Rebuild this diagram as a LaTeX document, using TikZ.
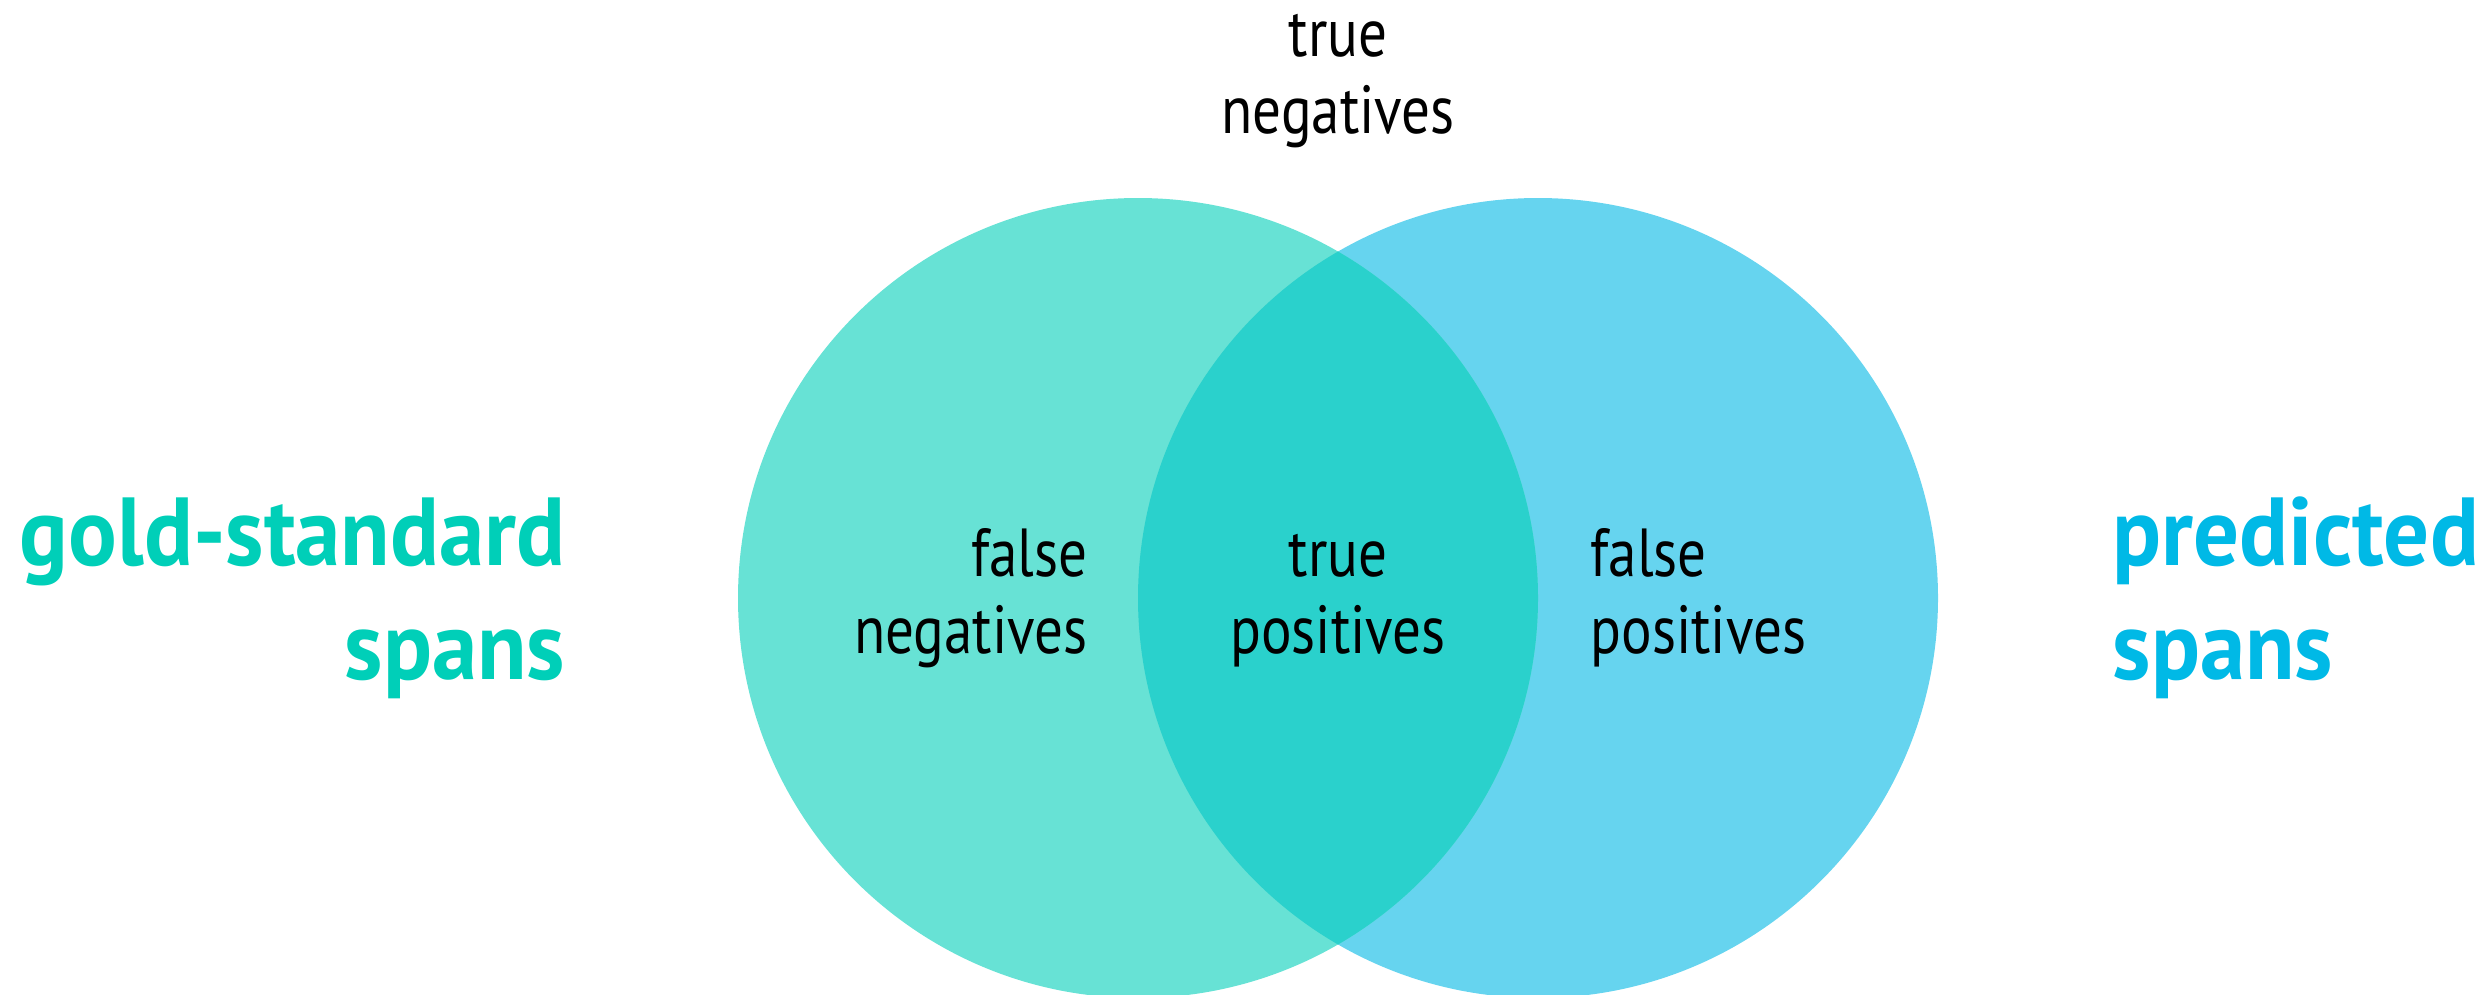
\documentclass[tikz,border=0pt]{standalone}
\usepackage{fontspec}
\setmainfont{PT Sans}
\newfontfamily\lblfont[FakeStretch=0.84]{PT Sans}
\newfontfamily\bigfont[FakeStretch=0.94]{PT Sans Bold}
\definecolor{goldfill}{HTML}{67E2D5}
\definecolor{predfill}{HTML}{66D4EF}
\definecolor{overlap}{HTML}{2AD1CC}
\definecolor{goldtext}{HTML}{00CFB8}
\definecolor{predtext}{HTML}{00B9E6}
\tikzset{
  lbl/.style={inner sep=0pt, font=\lblfont\fontsize{20.4}{23.1}\selectfont, text=black},
  big/.style={inner sep=0pt, font=\bigfont\fontsize{29}{34.2}\selectfont},
}
\begin{document}
\begin{tikzpicture}[x=0.3pt,y=-0.3pt]
\useasboundingbox (0,0) rectangle (2486,994);
\begin{scope}
\clip (0,0) rectangle (2486,994);
\fill[predfill] (1538,598) circle[radius=400];
\fill[goldfill] (1138,598) circle[radius=400];
\begin{scope}
\clip (1138,598) circle[radius=400];
\fill[overlap] (1538,598) circle[radius=400];
\end{scope}
\end{scope}
\node[lbl, anchor=base, align=center] (tn) at (1338,133) {true\\negatives};
\node[lbl, anchor=base east, align=right] (fn) at (1088,653) {false\\negatives};
\node[lbl, anchor=base, align=center] (tp) at (1338,653) {true\\positives};
\node[lbl, anchor=base west, align=left] (fp) at (1590,653) {false\\positives};
\node[big, text=goldtext, anchor=base east, align=right] (gs) at (566,679) {gold-standard\\spans};
\node[big, text=predtext, anchor=base west, align=left] (ps) at (2112,679) {predicted\\spans};
\end{tikzpicture}
\end{document}
